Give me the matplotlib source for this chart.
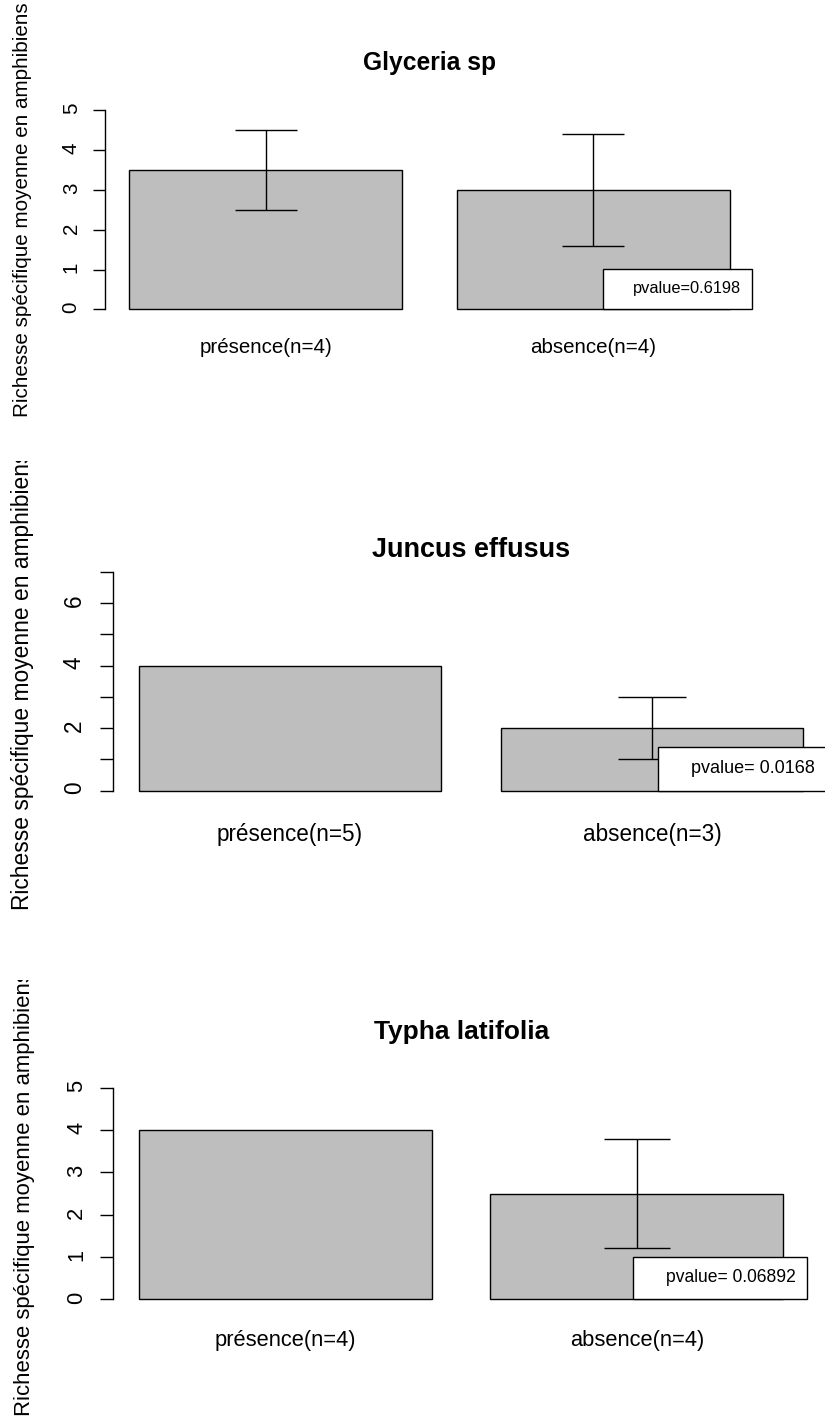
import matplotlib
matplotlib.use("Agg")
import matplotlib.pyplot as plt
from matplotlib.patches import Rectangle
from matplotlib.transforms import Bbox

plt.rcParams['font.family'] = ['Liberation Sans', 'DejaVu Sans']

# data
titles = ["Glyceria sp", "Juncus effusus", "Typha latifolia"]
groups = [["présence(n=4)", "absence(n=4)"],
          ["présence(n=5)", "absence(n=3)"],
          ["présence(n=4)", "absence(n=4)"]]
means = [[3.5, 3.0], [4.0, 2.0], [4.0, 2.5]]
errs = [[1.0, 1.41], [0.0, 1.0], [0.0, 1.29]]
pvalues = ["pvalue=0.6198", "pvalue= 0.0168", "pvalue= 0.06892"]
ytop = [5, 7, 5]
ylab = "Richesse spécifique moyenne en amphibiens"

W, H = 825, 1416
PT = 0.72  # px -> pt at dpi 100

# each panel is a scaled R barplot, geometry in pixels
panels = [
    dict(left=105, right=754, y0=309.3, unit=39.8, s=1.0, top=0, bottom=461, tbase=70, labx=28),
    dict(left=112.7, right=829.3, y0=790.7, unit=31.3, s=1.1, top=461, bottom=980, tbase=557, labx=29),
    dict(left=113.3, right=809, y0=1299.3, unit=42.3, s=1.07, top=980, bottom=1416, tbase=1039, labx=30),
]

fig = plt.figure(figsize=(W / 100, H / 100), dpi=100)

xs = [0.2 + 0.5 + k * 1.2 for k in range(2)]
axes = []
for i, p in enumerate(panels):
    s = p['s']
    yb = p['y0'] + 0.04 * ytop[i] * p['unit']
    yt = p['y0'] - 1.04 * ytop[i] * p['unit']
    ax = fig.add_axes([p['left'] / W, 1 - yb / H, (p['right'] - p['left']) / W, (yb - yt) / H])
    ax.set_xlim(0.112, 2.488)
    ax.set_ylim(-0.04 * ytop[i], 1.04 * ytop[i])
    ax.patch.set_visible(False)

    ax.bar(xs, means[i], width=1, color='#bebebe', edgecolor='black', linewidth=1.0, zorder=2)
    for x, m, e in zip(xs, means[i], errs[i]):
        if e > 0:
            ax.errorbar(x, m, yerr=e, color='black', lw=1.0, capsize=31 * s * PT,
                        capthick=1.0, zorder=3)

    for sp in ['top', 'right', 'bottom']:
        ax.spines[sp].set_visible(False)
    ax.spines['left'].set_bounds(0, ytop[i])
    ax.spines['left'].set_linewidth(1.0)

    step = 2 if ytop[i] > 5 else 1
    ticks = list(range(ytop[i] + 1))
    ax.set_yticks(ticks, [str(t) if t % step == 0 else '' for t in ticks])
    ax.tick_params(axis='y', length=12 * s * PT, width=1.0, pad=12.3 * s * PT,
                   labelsize=20.5 * s * PT, labelrotation=90)
    ax.set_xticks(xs, groups[i])
    ax.tick_params(axis='x', length=0, pad=21 * s * PT, labelsize=20.5 * s * PT)

    ax.set_title(titles[i], fontsize=24.6 * s * PT, fontweight='bold', pad=(yt - p['tbase']) * PT)

    t = fig.text(p['labx'] / W, 1 - (yb + yt) / 2 / H, ylab, rotation=90, rotation_mode='anchor',
                 ha='center', va='baseline', fontsize=20.7 * s * PT)
    t.set_clip_box(Bbox([[0, H - p['bottom']], [W, H - p['top']]]))
    t.set_clip_on(True)

    pt = ax.annotate(pvalues[i], xy=(2.48, 0), xycoords='data',
                     xytext=(-10.5 * s * PT, 20.5 * s * PT), textcoords='offset points',
                     ha='right', va='center', fontsize=16.4 * s * PT, zorder=6,
                     annotation_clip=False)
    axes.append((ax, pt, s))

# white p-value boxes sized to their text
fig.canvas.draw()
r = fig.canvas.get_renderer()
for ax, pt, s in axes:
    ext = pt.get_window_extent(r)
    x0, y0 = ax.transData.transform((2.48, 0))
    inv = ax.transData.inverted()
    (dx0, dy0) = inv.transform((ext.x0 - 30 * s, y0))
    (dx1, dy1) = inv.transform((x0, y0 + 40 * s))
    ax.add_patch(Rectangle((dx0, dy0), dx1 - dx0, dy1 - dy0, facecolor='white',
                           edgecolor='black', linewidth=1.0, zorder=5, clip_on=False))

fig.savefig("out.png", dpi=100)
